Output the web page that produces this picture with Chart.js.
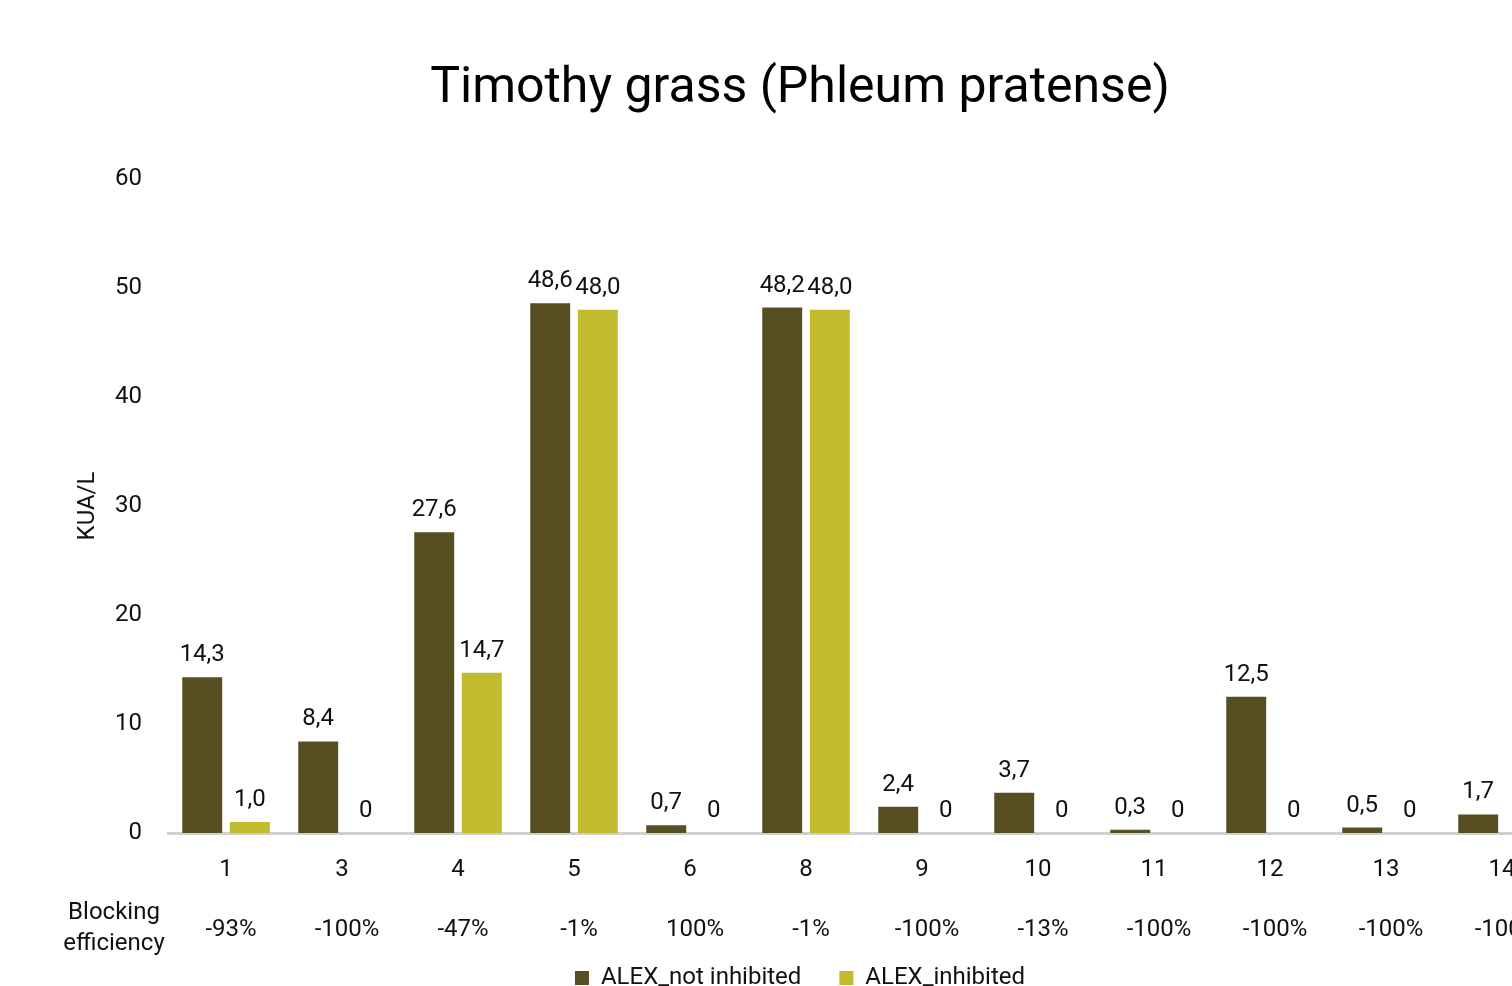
<!DOCTYPE html>
<html>
<head>
<meta charset="utf-8">
<script src="https://cdn.jsdelivr.net/npm/chart.js@4"></script>
<style>
  html, body { margin: 0; padding: 0; overflow: hidden; background: #fff; }
  canvas { display: block; }
</style>
</head>
<body>
<canvas id="barChart" width="1600" height="1000" style="width:1600px;height:1000px"></canvas>
<script>
// data
const categories = ['1', '3', '4', '5', '6', '8', '9', '10', '11', '12', '13', '14'];
const notInhibited = [14.3, 8.4, 27.6, 48.6, 0.7, 48.2, 2.4, 3.7, 0.3, 12.5, 0.5, 1.7];
const inhibited = [1.0, 0, 14.7, 48.0, 0, 48.0, 0, 0, 0, 0, 0, 0];
const blocking = ['-93%', '-100%', '-47%', '-1%', '100%', '-1%', '-100%', '-13%', '-100%', '-100%', '-100%', '-100%'];
const yMin = 0, yMax = 60, yStep = 10;

Chart.defaults.font.family = 'Roboto, sans-serif';
Chart.defaults.color = '#111';

const ctx = document.getElementById('barChart');

// numbers above the bars, decimal comma like the original
const valueLabels = {
    id: 'valueLabels',
    afterDatasetsDraw(chart) {
        const c = chart.ctx;
        c.save();
        c.font = '24px Roboto, sans-serif';
        c.fillStyle = '#111';
        c.textAlign = 'center';
        c.textBaseline = 'alphabetic';
        chart.data.datasets.forEach((ds, i) => {
            chart.getDatasetMeta(i).data.forEach((bar, j) => {
                const v = ds.data[j];
                const txt = v === 0 ? '0' : v.toFixed(1).replace('.', ',');
                c.fillText(txt, bar.x, bar.y - 16);
            });
        });
        c.restore();
    }
};

// "Blocking efficiency" row under the category labels
const blockingRow = {
    id: 'blockingRow',
    afterDraw(chart) {
        const c = chart.ctx;
        const xs = chart.scales.x;
        c.save();
        c.font = '24px Roboto, sans-serif';
        c.fillStyle = '#111';
        c.textAlign = 'center';
        c.textBaseline = 'middle';
        c.fillText('Blocking', xs.left - 54, xs.top + 80);
        c.fillText('efficiency', xs.left - 54, xs.top + 111);
        blocking.forEach((b, i) => {
            c.fillText(b, xs.getPixelForValue(i) + 5, xs.top + 97);
        });
        c.restore();
    }
};

new Chart(ctx, {
    type: 'bar',
    data: {
        labels: categories,
        datasets: [{
            label: 'ALEX_not inhibited',
            data: notInhibited,
            backgroundColor: '#574e21',
            categoryPercentage: 0.82,
            barPercentage: 0.84
        }, {
            label: 'ALEX_inhibited',
            data: inhibited,
            backgroundColor: '#c1bb2d',
            categoryPercentage: 0.82,
            barPercentage: 0.84
        }]
    },
    options: {
        responsive: false,
        animation: false,
        layout: { padding: 0 },
        plugins: {
            title: {
                display: true,
                text: 'Timothy grass (Phleum pratense)',
                color: '#000',
                font: { size: 50, weight: 'normal' },
                padding: { top: 59, bottom: 60 }
            },
            legend: {
                position: 'bottom',
                labels: {
                    boxWidth: 14,
                    boxHeight: 14,
                    padding: 38,
                    color: '#111',
                    font: { size: 24 }
                }
            },
            tooltip: { enabled: false }
        },
        scales: {
            x: {
                ticks: {
                    padding: 23,
                    autoSkip: false,
                    maxRotation: 0,
                    font: { size: 24 }
                },
                grid: { display: false, drawTicks: false },
                border: { display: true, color: '#d0d0d0', width: 3 },
                afterFit(s) { s.height = 95; }
            },
            y: {
                min: yMin,
                max: yMax,
                ticks: { stepSize: yStep, padding: 26, font: { size: 24 } },
                grid: { display: false, drawTicks: false },
                border: { display: false },
                title: {
                    display: true,
                    text: 'KUA/L',
                    font: { size: 24 },
                    padding: { top: 74, bottom: 0 }
                },
                afterFit(s) { s.width = 168; }
            },
            yr: {
                type: 'linear',
                position: 'right',
                ticks: { display: false },
                grid: { display: false, drawTicks: false },
                border: { display: false },
                afterFit(s) { s.width = 40; }
            }
        }
    },
    plugins: [valueLabels, blockingRow]
});
</script>
</body>
</html>
